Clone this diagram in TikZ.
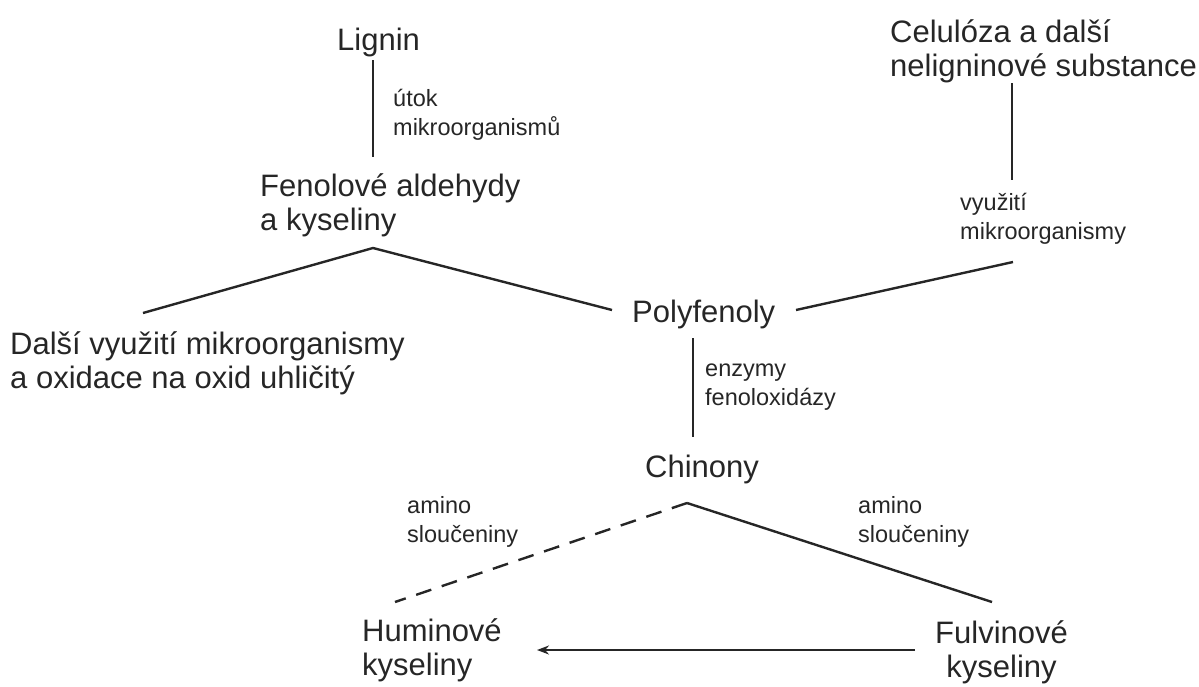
\documentclass[tikz,border=0pt]{standalone}
\usepackage{fontspec}
\setmainfont{Liberation Sans}
\usetikzlibrary{arrows.meta}
\definecolor{ink}{HTML}{262626}
\tikzset{
  big/.style={font=\fontsize{31}{34}\selectfont, text=ink, inner sep=0pt, anchor=base west, align=left},
  small/.style={font=\fontsize{23.5}{28.5}\selectfont, text=ink, inner sep=0pt, anchor=base west, align=left},
  conn/.style={draw=ink, line width=2.4pt},
  dconn/.style={conn, dash pattern=on 16pt off 11pt},
}
\begin{document}
\begin{tikzpicture}[x=1pt,y=-1pt]
\useasboundingbox (0,0) rectangle (1199,686);
% nodes (base anchor = baseline of last line)
\node[big] (lignin) at (337,50) {Lignin};
\node[big] (fenol) at (260,230) {Fenolové aldehydy\\a kyseliny};
\node[big] (celul) at (890,76) {Celulóza a další\\neligninové substance};
\node[big] (poly) at (632,322) {Polyfenoly};
\node[big] (dalsi) at (10,388) {Další využití mikroorganismy\\a oxidace na oxid uhličitý};
\node[big] (chin) at (645,477) {Chinony};
\node[big] (humin) at (362,675) {Huminové\\kyseliny};
\node[big, align=center] (fulv) at (935,677) {Fulvinové\\kyseliny};
% labels
\node[small] (l1) at (393,135) {útok\\mikroorganismů};
\node[small] (l2) at (960,239) {využití\\mikroorganismy};
\node[small] (l3) at (705,405) {enzymy\\fenoloxidázy};
\node[small] (l4) at (407,542) {amino\\sloučeniny};
\node[small] (l5) at (858,542) {amino\\sloučeniny};
% coordinates of connector ends
\coordinate (ligB) at (373,60);
\coordinate (fenT) at (373,157);
\coordinate (celB) at (1012,83);
\coordinate (celE) at (1012,180);
\coordinate (celD) at (1013,262);
\coordinate (polR) at (796,310);
\coordinate (fenP) at (373,248);
\coordinate (dalT) at (143,313);
\coordinate (polL) at (612,310);
\coordinate (polB) at (693,338);
\coordinate (chT) at (693,437);
\coordinate (chP) at (687,503);
\coordinate (humT) at (395,602);
\coordinate (fulT) at (992,602);
\coordinate (fulL) at (915,650);
\coordinate (humR) at (537,650);
% connectors
\draw[conn] (ligB) -- (fenT);
\draw[conn] (celB) -- (celE);
\draw[conn] (celD) -- (polR);
\draw[conn] (dalT) -- (fenP) -- (polL);
\draw[conn] (polB) -- (chT);
\draw[dconn] (chP) -- (humT);
\draw[conn] (chP) -- (fulT);
\draw[conn, -{Stealth[length=12pt,width=9pt]}] (fulL) -- (humR);
\end{tikzpicture}
\end{document}
